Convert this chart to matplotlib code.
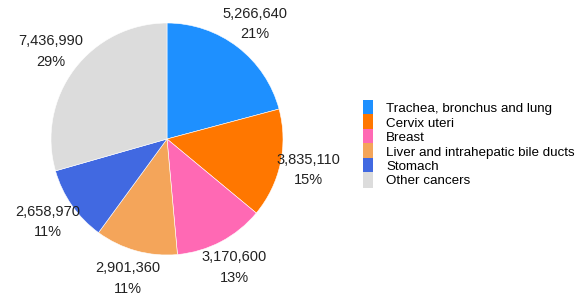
import matplotlib.pyplot as plt
from matplotlib.patches import Patch

plt.rcParams["font.family"] = ["Liberation Sans", "DejaVu Sans"]

causes = [
    "Trachea, bronchus and lung",
    "Cervix uteri",
    "Breast",
    "Liver and intrahepatic bile ducts",
    "Stomach",
    "Other cancers",
]
deaths = [5266640, 3835110, 3170600, 2901360, 2658970, 7436990]
colors = ["#1E90FF", "#FF7700", "#FF69B4", "#F4A55A", "#4169E1", "#DCDCDC"]

total = sum(deaths)
labels = [f"{v:,}\n{round(100 * v / total)}%" for v in deaths]

W, H = 576, 300
fig = plt.figure(figsize=(W / 100, H / 100), dpi=100)

# pie centre at (167, 139) px from top, radius ~116 px
side = 300
ax = fig.add_axes([(167 - side / 2) / W, (161 - side / 2) / H, side / W, side / H])
wedges, texts = ax.pie(
    deaths,
    colors=colors,
    labels=labels,
    labeldistance=1.25,
    startangle=90,
    counterclock=False,
    wedgeprops=dict(edgecolor="white", linewidth=0.4),
    textprops=dict(fontsize=10.5, color="#222222", linespacing=1.6),
)
for t in texts:
    t.set_ha("center")
    t.set_va("center")

k = side / (2 * 116)
ax.set_xlim(-k, k)
ax.set_ylim(-k, k)
ax.set_aspect("equal")
ax.axis("off")

handles = [Patch(facecolor=c, edgecolor="none") for c in colors]
fig.legend(
    handles,
    causes,
    loc="upper left",
    bbox_to_anchor=(363 / W, 1 - 100 / H),
    frameon=False,
    fontsize=9.6,
    handlelength=0.75,
    handleheight=1.4,
    handletextpad=1.0,
    labelspacing=-0.07,
    borderpad=0,
    borderaxespad=0,
)

fig.savefig("out.png", dpi=100)
